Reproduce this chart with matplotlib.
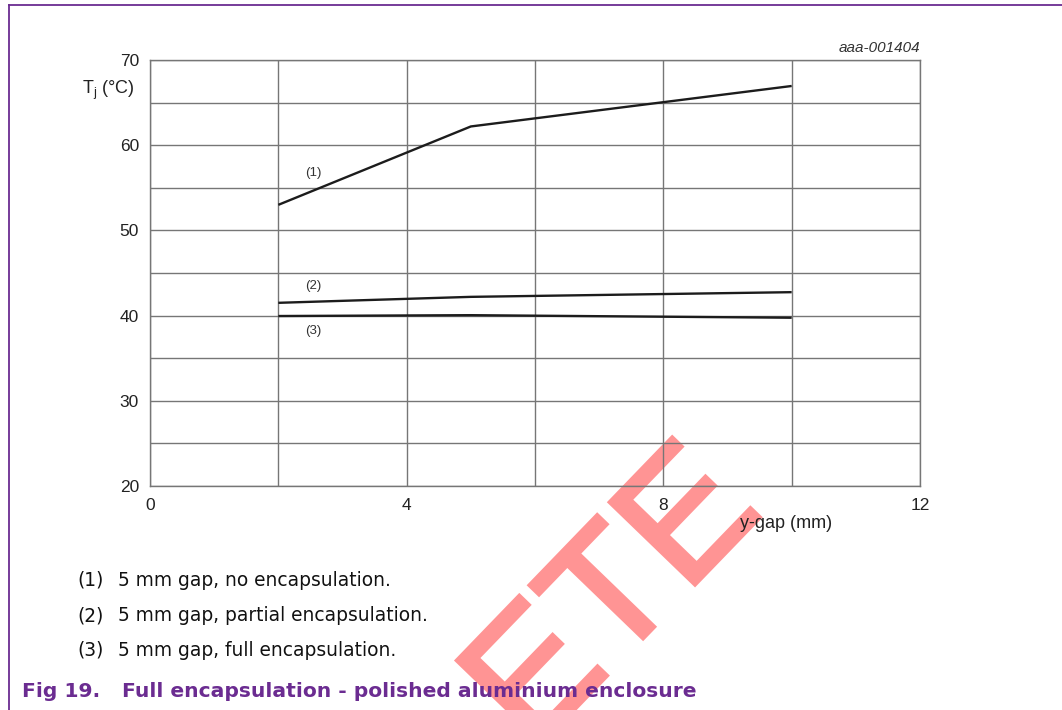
import matplotlib
matplotlib.use("Agg")
import matplotlib.pyplot as plt
from matplotlib.lines import Line2D
import matplotlib.patheffects as pe

plt.rcParams['font.family'] = ['Liberation Sans', 'DejaVu Sans']

# y-gap (mm) vs junction temperature (deg C)
gap = [2, 5, 10]
tj_none = [53.0, 62.2, 66.95]      # (1) no encapsulation
tj_partial = [41.5, 42.2, 42.75]   # (2) partial encapsulation
tj_full = [39.95, 40.05, 39.75]    # (3) full encapsulation

curve_tags = ['(1)', '(2)', '(3)']
tag_pos = [(2.55, 56.7), (2.55, 43.5), (2.55, 38.2)]

notes = ['5 mm gap, no encapsulation.',
         '5 mm gap, partial encapsulation.',
         '5 mm gap, full encapsulation.']

x_grid = [0, 2, 4, 6, 8, 10, 12]
x_labels = ['0', '', '4', '', '8', '', '12']
y_grid = [20, 25, 30, 35, 40, 45, 50, 55, 60, 65, 70]
y_labels = ['20', '', '30', '', '40', '', '50', '', '60', '', '70']

W, H = 1062, 710
purple = '#6b2c91'
grid_col = '#767676'
wm_col = '#ff9494'

fig = plt.figure(figsize=(W / 100, H / 100), dpi=100)
fig.patch.set_facecolor('white')
ax = fig.add_axes([150 / W, 1 - 486 / H, 770 / W, 426 / H])
ax.set_facecolor('none')

for series in (tj_none, tj_partial, tj_full):
    ax.plot(gap, series, color='#1c1c1c', lw=1.7, solid_capstyle='butt', zorder=3)

for tag, (tx, ty) in zip(curve_tags, tag_pos):
    ax.text(tx, ty, tag, fontsize=9.5, color='#333333', ha='center', va='center')

ax.set_xlim(0, 12)
ax.set_ylim(20, 70)
ax.set_xticks(x_grid)
ax.set_xticklabels(x_labels)
ax.set_yticks(y_grid)
ax.set_yticklabels(y_labels)
ax.tick_params(length=0, labelsize=12.5, colors='#222222')
ax.tick_params(axis='x', pad=9)
ax.tick_params(axis='y', pad=8)
ax.grid(True, color=grid_col, lw=1.0)
for sp in ax.spines.values():
    sp.set_color(grid_col)
    sp.set_linewidth(1.0)

ax.text(1.0, 1.012, 'aaa-001404', transform=ax.transAxes, ha='right', va='bottom',
        fontsize=11, style='italic', color='#333333')
fig.text(135 / W, 1 - 90 / H, r'T$_\mathregular{j}$ (°C)', ha='right', va='center',
         fontsize=13, color='#222222')
fig.text(740 / W, 1 - 523 / H, 'y-gap (mm)', ha='left', va='center',
         fontsize=13, color='#222222')

# footnotes
for i, note in enumerate(notes):
    yb = 1 - (586 + 35 * i) / H
    fig.text(77 / W, yb, '(%d)' % (i + 1), fontsize=13.4, color='#111111',
             va='baseline', family='DejaVu Sans')
    fig.text(118 / W, yb, note, fontsize=13.4, color='#111111', va='baseline',
             family='DejaVu Sans')

fig.text(22 / W, 1 - 697 / H, 'Fig 19.', fontsize=14.6, fontweight='bold', color=purple,
         va='baseline', family='DejaVu Sans')
fig.text(122 / W, 1 - 697 / H, 'Full encapsulation - polished aluminium enclosure',
         fontsize=14.6, fontweight='bold', color=purple, va='baseline',
         family='DejaVu Sans')

# page frame
fig.add_artist(Line2D([9 / W, 1], [1 - 5 / H, 1 - 5 / H], transform=fig.transFigure,
                      color=purple, lw=1.3))
fig.add_artist(Line2D([9 / W, 9 / W], [0, 1 - 5 / H], transform=fig.transFigure,
                      color=purple, lw=1.3))

# watermark, drawn under the axes content
fig.text(765 / W, 1 - 512 / H, 'DELETE', fontsize=124, color=wm_col,
         rotation=46, rotation_mode='anchor', ha='right', va='baseline', zorder=-5,
         path_effects=[pe.Stroke(linewidth=3, foreground=wm_col, joinstyle='miter'),
                       pe.Normal()])

fig.savefig('out.png', dpi=100)
